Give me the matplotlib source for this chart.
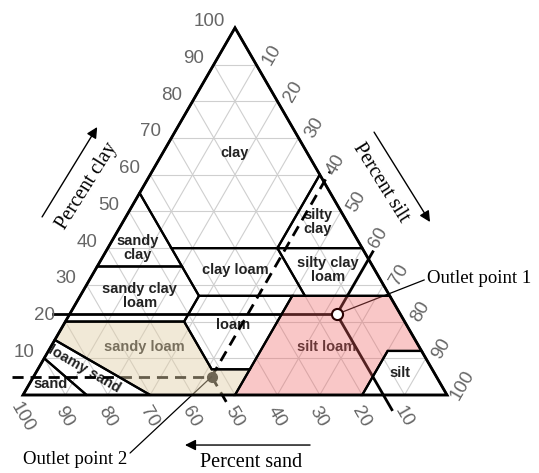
import numpy as np
import matplotlib.pyplot as plt
from matplotlib.patches import Polygon

H = np.sqrt(3) / 2

# texture classes, vertices as (sand, silt, clay) in percent
sand_cls = [(100, 0, 0), (85, 15, 0), (90, 0, 10)]
loamy_sand = [(85, 15, 0), (70, 30, 0), (85, 0, 15), (90, 0, 10)]
sandy_loam = [(70, 30, 0), (50, 50, 0), (43, 50, 7), (52, 41, 7), (52, 28, 20),
              (80, 0, 20), (85, 0, 15)]
loam = [(43, 50, 7), (52, 41, 7), (52, 28, 20), (45, 28, 27), (23, 50, 27)]
silt_loam = [(50, 50, 0), (20, 80, 0), (8, 80, 12), (0, 88, 12), (0, 73, 27),
             (23, 50, 27)]
silt_cls = [(20, 80, 0), (0, 100, 0), (0, 88, 12), (8, 80, 12)]
sandy_clay_loam = [(80, 0, 20), (52, 28, 20), (45, 28, 27), (45, 20, 35), (65, 0, 35)]
clay_loam = [(45, 28, 27), (20, 53, 27), (20, 40, 40), (45, 15, 40)]
silty_clay_loam = [(20, 53, 27), (0, 73, 27), (0, 60, 40), (20, 40, 40)]
sandy_clay = [(65, 0, 35), (45, 20, 35), (45, 0, 55)]
silty_clay = [(20, 40, 40), (0, 60, 40), (0, 40, 60)]
clay_cls = [(45, 0, 55), (45, 15, 40), (20, 40, 40), (0, 40, 60), (0, 0, 100)]

classes = [sand_cls, loamy_sand, sandy_loam, loam, silt_loam, silt_cls,
           sandy_clay_loam, clay_loam, silty_clay_loam, sandy_clay, silty_clay, clay_cls]

# outlet samples (sand, silt, clay)
outlet1 = (15, 63, 22)
outlet2 = (53, 42, 5)

ticks = [10, 20, 30, 40, 50, 60, 70, 80, 90, 100]


def tern(sand, silt, clay):
    return (silt + clay / 2) / 100, clay / 100 * H


def txy(pts):
    return np.array([tern(*p) for p in pts])


fig = plt.figure(figsize=(5.39, 4.73), dpi=100)
ax = fig.add_axes([0, 0, 1, 1])
ax.set_xlim(-23 / 424, 516 / 424)
ax.set_ylim(-78 / 424, 395 / 424)
ax.set_aspect('equal')
ax.axis('off')

# grid
for v in range(10, 100, 10):
    a = txy([(100 - v, 0, v), (0, 100 - v, v)])
    b = txy([(v, 100 - v, 0), (v, 0, 100 - v)])
    c = txy([(100 - v, v, 0), (0, v, 100 - v)])
    for seg in (a, b, c):
        ax.plot(seg[:, 0], seg[:, 1], color='#cfcfcf', lw=0.8, zorder=1)

# class names
lab = dict(ha='center', va='center', fontsize=10.5, fontweight='bold',
           color='#222222', family='Liberation Sans', zorder=2, linespacing=1.0)
for text, p in [('clay', (17, 17, 66)), ('silty\nclay', (7, 46, 47)),
                ('sandy\nclay', (53, 7, 40)), ('clay loam', (33, 33, 34)),
                ('silty clay\nloam', (11, 55, 34)), ('sandy clay\nloam', (59, 14, 27)),
                ('loam', (41, 40, 19)), ('sandy loam', (65, 22, 13)),
                ('silt loam', (22, 65, 13)), ('silt', (7, 86, 6)),
                ('sand', (92, 5, 3))]:
    ax.text(*tern(*p), text, **lab)
ax.text(*tern(82, 11, 7), 'loamy sand', rotation=-30, **lab)

# outlet point 1 (solid lines)
s, si, c = outlet1
l1 = [txy([(100 - c + 4, -4, c), outlet1]),
      txy([outlet1, (-2, si, 100 - si + 2)]),
      txy([outlet1, (s, 100 - s + 4, -4)])]
for seg in l1:
    ax.plot(seg[:, 0], seg[:, 1], color='black', lw=2, zorder=3)

# outlet point 2 (dashed lines)
s, si, c = outlet2
l2 = [txy([(100 - c + 5, -5, c), outlet2]),
      txy([outlet2, (-3, si, 100 - si + 3)]),
      txy([outlet2, (s, 100 - s + 2, -2)])]
for seg in l2:
    ax.plot(seg[:, 0], seg[:, 1], color='black', lw=2, dashes=(4, 2.5), zorder=3)
ax.plot(*tern(*outlet2), 'o', color='#111111', ms=7, zorder=3)

# leader lines and labels
serif = 'Liberation Serif'
ax.annotate('Outlet point 2', xy=tern(*outlet2), xytext=(0.123, -0.151),
            ha='center', va='center', fontsize=13.5, family=serif,
            arrowprops=dict(arrowstyle='-', lw=0.9, color='black',
                            shrinkA=0, shrinkB=0, relpos=(1.0, 0.7)), zorder=3)
ax.annotate('Outlet point 1', xy=tern(*outlet1), xytext=(0.953, 0.274),
            ha='left', va='center', fontsize=13.5, family=serif,
            arrowprops=dict(arrowstyle='-', lw=0.9, color='black',
                            shrinkA=0, shrinkB=0, relpos=(0.0, 0.5)), zorder=3)

# shaded classes
ax.add_patch(Polygon(txy(sandy_loam), closed=True, facecolor='#e2cfa7', alpha=0.45,
                     edgecolor='none', zorder=4))
ax.add_patch(Polygon(txy(silt_loam), closed=True, facecolor='#f06161', alpha=0.35,
                     edgecolor='none', zorder=4))

# class boundaries and outline
for poly in classes:
    ax.add_patch(Polygon(txy(poly), closed=True, fill=False, edgecolor='black',
                         lw=1.6, joinstyle='miter', zorder=5))
ax.add_patch(Polygon(txy([(100, 0, 0), (0, 100, 0), (0, 0, 100)]), closed=True,
                     fill=False, edgecolor='black', lw=2, zorder=6))

ax.plot(*tern(*outlet1), 'o', mfc='white', mec='#2a0000', mew=1.5, ms=8, zorder=7)

# tick labels
num = dict(fontsize=13.5, color='#666666', family='Liberation Sans',
           ha='center', va='center')
for v in ticks:
    x, y = tern(100 - v, 0, v)
    ax.text(x - 10 / 424, y + 6 / 424, str(v), **dict(num, ha='right'))
    x, y = tern(0, v, 100 - v)
    ax.text(x + 16 / 424, y + 10 / 424, str(v), rotation=60, **num)
for v in ticks:
    x, y = tern(v, 100 - v, 0)
    ax.text(x - 1 / 424, y - 22 / 424, str(v), rotation=-60, **num)

# axis titles with arrows
arr = dict(arrowstyle='-|>', lw=1.0, color='black', mutation_scale=16,
           shrinkA=0, shrinkB=0)
ax.annotate('', xy=(0.175, 0.632), xytext=(0.045, 0.420), arrowprops=arr)
ax.annotate('', xy=(0.960, 0.408), xytext=(0.828, 0.620), arrowprops=arr)
ax.annotate('', xy=(0.382, -0.118), xytext=(0.677, -0.118), arrowprops=arr)
ax.text(0.151, 0.493, 'Percent clay', rotation=58, ha='center', va='center',
        fontsize=14.5, family=serif)
ax.text(0.844, 0.500, 'Percent silt', rotation=-58, ha='center', va='center',
        fontsize=14.5, family=serif)
ax.text(0.538, -0.160, 'Percent sand', ha='center', va='center',
        fontsize=14.5, family=serif)

fig.savefig('out.png', dpi=100)
